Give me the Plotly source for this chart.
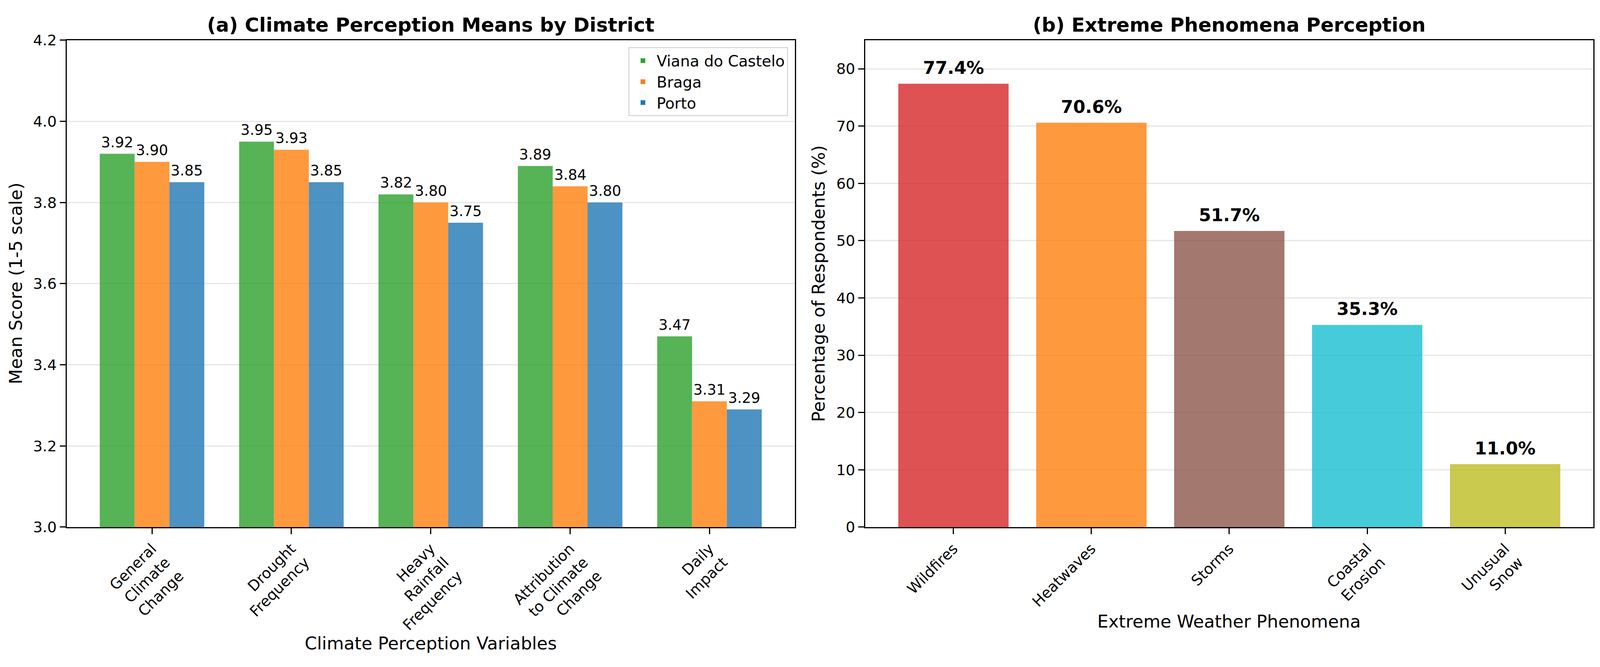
import plotly.graph_objects as go

# data
variables = ["General<br>Climate<br>Change", "Drought<br>Frequency",
             "Heavy<br>Rainfall<br>Frequency", "Attribution<br>to Climate<br>Change",
             "Daily<br>Impact"]
districts = ["Viana do Castelo", "Braga", "Porto"]
viana = [3.92, 3.95, 3.82, 3.89, 3.47]
braga = [3.90, 3.93, 3.80, 3.84, 3.31]
porto = [3.85, 3.85, 3.75, 3.80, 3.29]

phenomena = ["Wildfires", "Heatwaves", "Storms", "Coastal<br>Erosion", "Unusual<br>Snow"]
percentages = [77.4, 70.6, 51.7, 35.3, 11.0]

district_colors = ["#2ca02c", "#ff7f0e", "#1f77b4"]
phen_colors = ["#d62728", "#ff7f0e", "#8c564b", "#17becf", "#bcbd22"]

W, H = 4344, 1707
FONT = "DejaVu Sans"
bar_w = 0.25
left_dom = [181 / W, 2158 / W]
right_dom = [2349 / W, 4326 / W]
y_dom = [1 - 1362 / H, 1 - 83 / H]

fig = go.Figure()

annotations = []
for j, (name, vals) in enumerate(zip(districts, [viana, braga, porto])):
    xs = [i + (j - 1) * bar_w for i in range(len(vals))]
    fig.add_trace(go.Bar(
        x=xs, y=vals, width=bar_w, name=name,
        marker=dict(color=district_colors[j], opacity=0.8, line=dict(width=0)),
        xaxis="x", yaxis="y",
    ))
    for x, v in zip(xs, vals):
        annotations.append(dict(
            x=x, y=v, xref="x", yref="y", text=f"{v:.2f}", showarrow=False,
            xanchor="center", yanchor="bottom", yshift=6,
            font=dict(family=FONT, size=37, color="black"),
        ))

fig.add_trace(go.Bar(
    x=list(range(len(phenomena))), y=percentages, width=0.8,
    marker=dict(color=phen_colors, opacity=0.8, line=dict(width=0)),
    showlegend=False, xaxis="x2", yaxis="y2",
))
for i, v in enumerate(percentages):
    annotations.append(dict(
        x=i, y=v, xref="x2", yref="y2", text=f"<b>{v:.1f}%</b>", showarrow=False,
        xanchor="center", yanchor="bottom", yshift=12,
        font=dict(family=FONT, size=45, color="black"),
    ))


def paper_text(x, y, text, size, angle=0):
    return dict(x=x, y=y, xref="paper", yref="paper", text=text, showarrow=False,
                xanchor="center", yanchor="middle", textangle=angle,
                font=dict(family=FONT, size=size, color="black"))


annotations += [
    paper_text(sum(left_dom) / 2, 1 - 43 / H,
               "<b>(a) Climate Perception Means by District</b>", 50),
    paper_text(sum(right_dom) / 2, 1 - 43 / H,
               "<b>(b) Extreme Phenomena Perception</b>", 50),
    paper_text(sum(left_dom) / 2, 1 - 1667 / H, "Climate Perception Variables", 45),
    paper_text(sum(right_dom) / 2, 1 - 1610 / H, "Extreme Weather Phenomena", 45),
    paper_text(43 / W, sum(y_dom) / 2, "Mean Score (1-5 scale)", 45, -90),
    paper_text(2223 / W, sum(y_dom) / 2, "Percentage of Respondents (%)", 45, -90),
]

axis_common = dict(
    showline=True, mirror=True, linecolor="black", linewidth=3,
    ticks="outside", ticklen=15, tickwidth=3, tickcolor="black",
    tickfont=dict(family=FONT, size=38, color="black"), zeroline=False,
)

fig.update_layout(
    autosize=True,
    margin=dict(l=0, r=0, t=0, b=0),
    paper_bgcolor="white", plot_bgcolor="white",
    font=dict(family=FONT, color="black"),
    barmode="overlay",
    xaxis=dict(domain=left_dom, range=[-0.6125, 4.6125],
               tickvals=list(range(len(variables))), ticktext=variables,
               tickangle=-45, showgrid=False, **axis_common),
    yaxis=dict(domain=y_dom, range=[3.0, 4.2], dtick=0.2, tickformat=".1f",
               showgrid=True, gridcolor="#e6e6e6", gridwidth=3, **axis_common),
    xaxis2=dict(domain=right_dom, range=[-0.64, 4.64], anchor="y2",
                tickvals=list(range(len(phenomena))), ticktext=phenomena,
                tickangle=-45, showgrid=False, **axis_common),
    yaxis2=dict(domain=y_dom, range=[0, 85], dtick=10, anchor="x2",
                showgrid=True, gridcolor="#e6e6e6", gridwidth=3, **axis_common),
    legend=dict(x=2139 / W, y=1 - 102 / H, xanchor="right", yanchor="top",
                bgcolor="white", bordercolor="#cccccc", borderwidth=2,
                font=dict(family=FONT, size=39, color="black"), itemwidth=60),
    annotations=annotations,
)

# fill the browser window exactly, without page margins or scrollbars
fit_js = ("document.documentElement.style.margin='0';"
          "document.body.style.margin='0';document.body.style.overflow='hidden';"
          "var gd=document.getElementById('{plot_id}');"
          "gd.style.width='100vw';gd.style.height='100vh';"
          "Plotly.Plots.resize(gd);")

fig.write_html("out.html", default_width="100vw", default_height="100vh",
               post_script=fit_js, config={"displayModeBar": False})
